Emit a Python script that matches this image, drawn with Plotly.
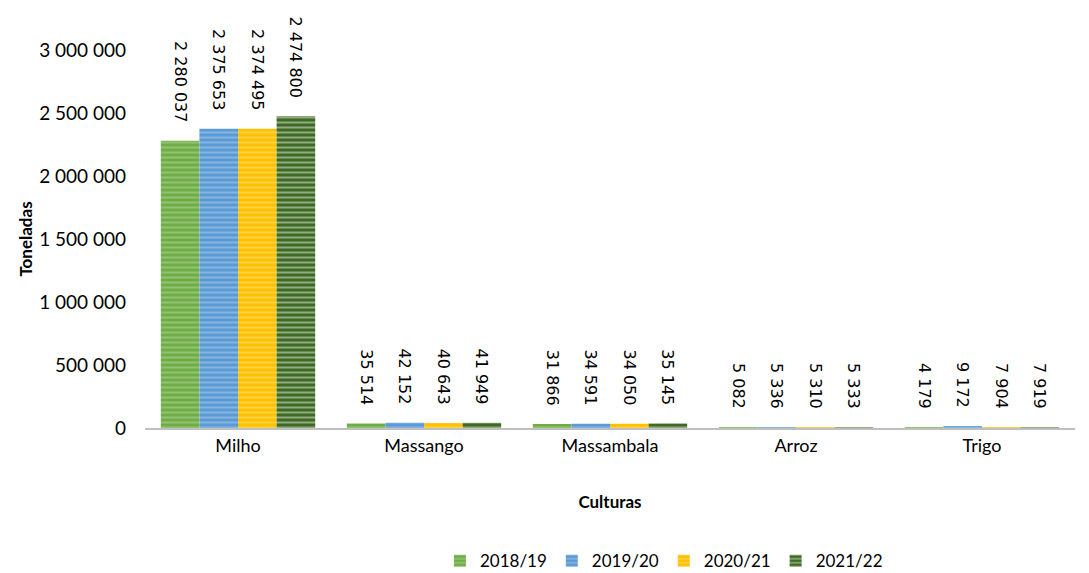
import plotly.graph_objects as go

categories = ["Milho", "Massango", "Massambala", "Arroz", "Trigo"]
series_names = ["2018/19", "2019/20", "2020/21", "2021/22"]
v_2018 = [2280037, 35514, 31866, 5082, 4179]
v_2019 = [2375653, 42152, 34591, 5336, 9172]
v_2020 = [2374495, 40643, 34050, 5310, 7904]
v_2021 = [2474800, 41949, 35145, 5333, 7919]
y_ticks = [0, 500000, 1000000, 1500000, 2000000, 2500000, 3000000]

values = [v_2018, v_2019, v_2020, v_2021]
colors = ["#70AD47", "#5B9BD5", "#FFC000", "#3F6A25"]
fgs = ["#B5D89F", "#B3D0EC", "#FFE38A", "#E4EEDC"]

def fmt(v):
    return f"{v:,}".replace(",", " ") + "\u00a0\u00a0\u00a0"

fig = go.Figure()
for name, vals, c, fg in zip(series_names, values, colors, fgs):
    fig.add_trace(go.Bar(
        x=categories, y=vals, name=name,
        marker=dict(color=c, line=dict(width=0),
                    pattern=dict(shape="-", fgcolor=fg, bgcolor=c, size=5, solidity=0.4, fillmode="overlay")),
        text=[fmt(v) for v in vals], textposition="outside", textangle=90,
        constraintext="none",
        textfont=dict(size=16, color="#000000", family="DejaVu Sans"), cliponaxis=False,
    ))

fig.update_layout(
    width=1089, height=573,
    margin=dict(l=137, r=22, t=42, b=153, autoexpand=False),
    paper_bgcolor="white", plot_bgcolor="white",
    font=dict(family="Lato, Liberation Sans, sans-serif", size=18, color="#000000"),
    barmode="group", bargap=0.17, bargroupgap=0,
    separators=", ",
    showlegend=True,
    legend=dict(orientation="h", x=0.558, xanchor="center", y=-0.40, yanchor="bottom",
                font=dict(size=17), traceorder="normal"),
    xaxis=dict(title=dict(text="<b>Culturas</b>", font=dict(size=17), standoff=42),
               showline=True, linecolor="#BFBFBF", linewidth=2, ticks="", showgrid=False,
               tickfont=dict(size=18)),
    yaxis=dict(title=dict(text="<b>Toneladas</b>", font=dict(size=17), standoff=2),
               range=[0, 3000000], tickvals=y_ticks, tickformat=",d",
               showgrid=False, zeroline=False, showline=False, ticks="",
               tickfont=dict(size=19), ticklabelstandoff=18),
)

fig.write_html("out.html")
